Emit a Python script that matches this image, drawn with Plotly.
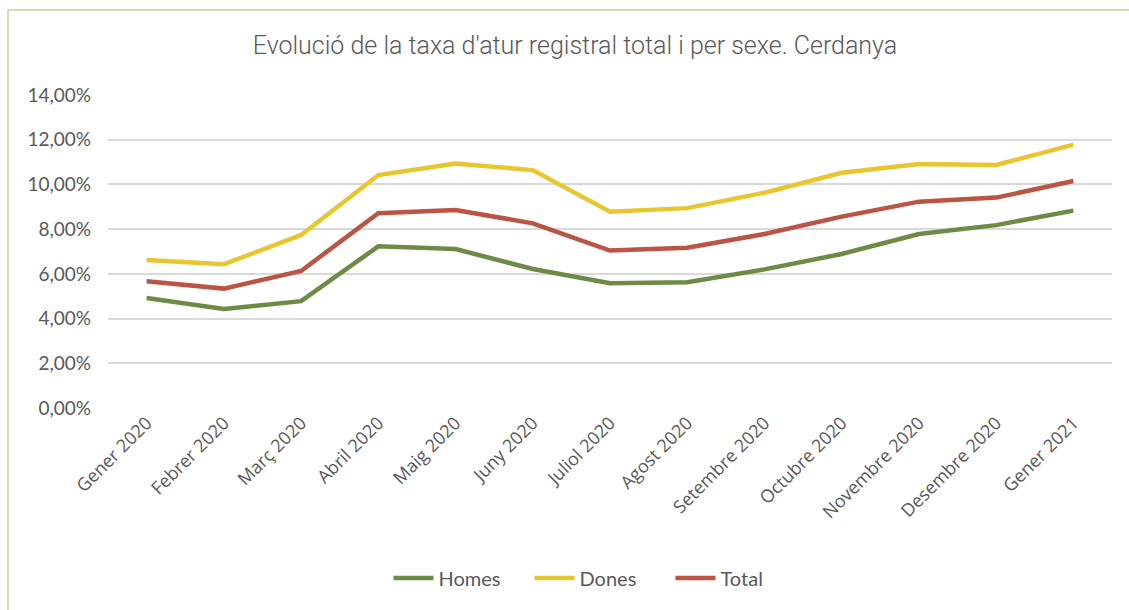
import plotly.graph_objects as go

mesos = ["Gener 2020", "Febrer 2020", "Març 2020", "Abril 2020", "Maig 2020",
         "Juny 2020", "Juliol 2020", "Agost 2020", "Setembre 2020",
         "Octubre 2020", "Novembre 2020", "Desembre 2020", "Gener 2021"]

homes = [4.92, 4.43, 4.78, 7.23, 7.11, 6.22, 5.58, 5.63, 6.20, 6.89, 7.78, 8.18, 8.83]
dones = [6.62, 6.43, 7.74, 10.42, 10.94, 10.64, 8.78, 8.94, 9.63, 10.52, 10.91, 10.87, 11.78]
total = [5.67, 5.34, 6.13, 8.71, 8.86, 8.26, 7.04, 7.17, 7.78, 8.56, 9.23, 9.41, 10.15]

y_ticks = [0, 2, 4, 6, 8, 10, 12, 14]
y_labels = [f"{v:.2f}".replace(".", ",") + "%" for v in y_ticks]

series = [
    ("Homes", homes, "#6e8b46"),
    ("Dones", dones, "#e8c630"),
    ("Total", total, "#bc5445"),
]

fig = go.Figure()
for name, vals, color in series:
    fig.add_trace(go.Scatter(
        x=list(range(len(mesos))), y=vals, name=name, mode="lines",
        line=dict(color=color, width=4.5),
        hovertemplate="%{y:.2f}%<extra>" + name + "</extra>",
    ))

W, H = 1129, 610
L, R, T, B = 108, 17, 95, 202
pw, ph = W - L - R, H - T - B

def px(xp):
    return (xp - L) / pw

def py(yp):
    return (H - B - yp) / ph

fig.update_layout(
    width=W, height=H,
    margin=dict(l=L, r=R, t=T, b=B),
    paper_bgcolor="white", plot_bgcolor="white",
    separators=",.",
    title=dict(
        text="Evolució de la taxa d'atur registral total i per sexe. Cerdanya",
        x=575 / W, xref="container", xanchor="center",
        y=1 - 45 / H, yanchor="middle",
        font=dict(family="Roboto, sans-serif", size=25, weight=300, color="#595959"),
    ),
    xaxis=dict(
        range=[-0.5, len(mesos) - 0.5],
        tickmode="array", tickvals=list(range(len(mesos))), ticktext=mesos,
        tickangle=-45, showgrid=False, zeroline=False, showline=False,
        ticks="", tickfont=dict(family="Open Sans, sans-serif", size=18, color="#595959"),
    ),
    yaxis=dict(
        range=[0, 14], tickmode="array", tickvals=y_ticks, ticktext=y_labels,
        showgrid=True, gridcolor="#d9d9d9", gridwidth=1.5,
        zeroline=False, showline=False, ticks="", ticklabelstandoff=16,
        tickfont=dict(family="Lato, sans-serif", size=19, color="#595959"),
    ),
    legend=dict(
        orientation="h", x=px(600), xanchor="center",
        y=py(578), yanchor="middle",
        font=dict(family="Lato, sans-serif", size=20, color="#595959"),
        itemwidth=40, tracegroupgap=0,
        entrywidth=86, entrywidthmode="pixels",
    ),
    shapes=[
        dict(type="line", xref="paper", yref="paper",
             x0=px(8), x1=px(W + 5), y0=py(10), y1=py(10),
             line=dict(color="#d3deb8", width=2)),
        dict(type="line", xref="paper", yref="paper",
             x0=px(8), x1=px(8), y0=py(10), y1=py(H + 5),
             line=dict(color="#d3deb8", width=2)),
    ],
    showlegend=True,
)

fig.write_html("out.html")
